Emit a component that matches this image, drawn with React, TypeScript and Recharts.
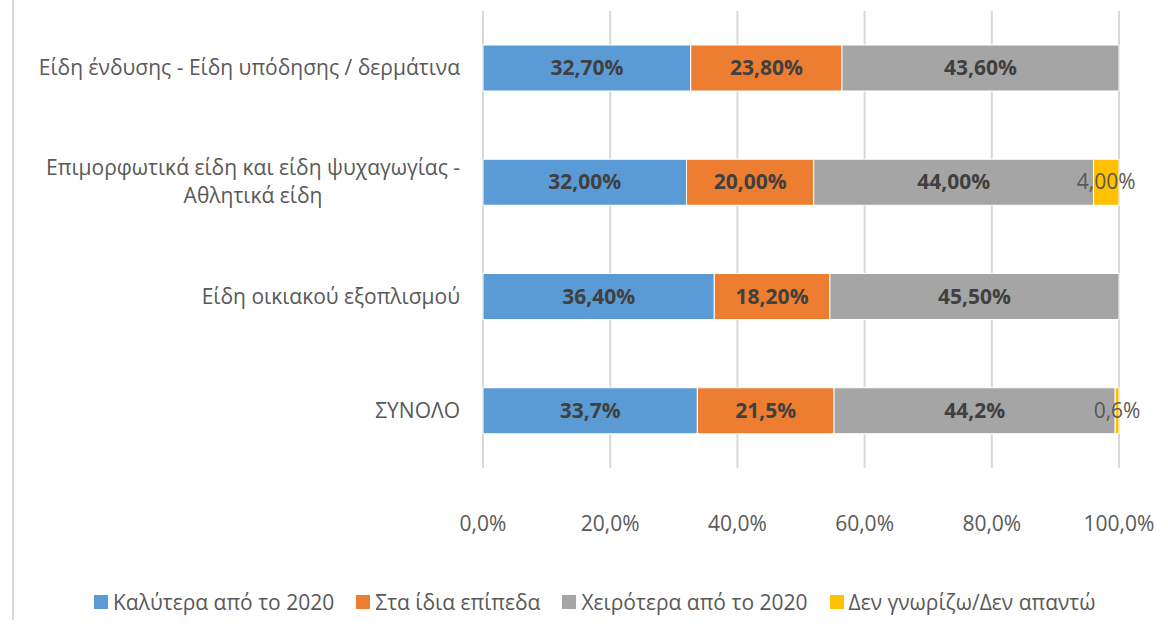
import React from "react";
import { BarChart, Bar, XAxis, YAxis, CartesianGrid, LabelList } from "recharts";

const categories = [
  "Είδη ένδυσης - Είδη υπόδησης / δερμάτινα",
  "Επιμορφωτικά είδη και είδη ψυχαγωγίας - Αθλητικά είδη",
  "Είδη οικιακού εξοπλισμού",
  "ΣΥΝΟΛΟ",
];

const better = [32.7, 32.0, 36.4, 33.7];
const same = [23.8, 20.0, 18.2, 21.5];
const worse = [43.6, 44.0, 45.5, 44.2];
const unknown = [0, 4.0, 0, 0.6];

const betterLabels = ["32,70%", "32,00%", "36,40%", "33,7%"];
const sameLabels = ["23,80%", "20,00%", "18,20%", "21,5%"];
const worseLabels = ["43,60%", "44,00%", "45,50%", "44,2%"];
const unknownLabels = ["", "4,00%", "", "0,6%"];

const xTicks = [0, 0.2, 0.4, 0.6, 0.8, 1];

const seriesNames = [
  "Καλύτερα από το 2020",
  "Στα ίδια επίπεδα",
  "Χειρότερα από το 2020",
  "Δεν γνωρίζω/Δεν απαντώ",
];
const colors = ["#5B9BD5", "#ED7D31", "#A5A5A5", "#FFC000"];

const data = categories.map((name, i) => ({
  name,
  better: better[i],
  same: same[i],
  worse: worse[i],
  unknown: unknown[i],
  betterLabel: betterLabels[i],
  sameLabel: sameLabels[i],
  worseLabel: worseLabels[i],
  unknownLabel: unknownLabels[i],
}));

const FONT = "'Open Sans', sans-serif";
const FS = 21;

let ctx: CanvasRenderingContext2D | null = null;
function measure(text: string) {
  if (!ctx) ctx = document.createElement("canvas").getContext("2d");
  if (!ctx) return text.length * 11;
  ctx.font = `${FS}px ${FONT}`;
  return ctx.measureText(text).width;
}

function wrap(label: string) {
  if (label.length <= 45) return [label];
  const idx = label.lastIndexOf(" ", 40);
  return [label.slice(0, idx), label.slice(idx + 1)];
}

const CategoryTick = (props: any) => {
  const { x, y, payload } = props;
  const lines = wrap(payload.value);
  if (lines.length === 1) {
    return (
      <text x={x} y={y} dy={7} textAnchor="end" fill="#595959" fontSize={FS} fontFamily={FONT}>
        {lines[0]}
      </text>
    );
  }
  const w = measure(lines[0]);
  const cx = x - w / 2;
  return (
    <text textAnchor="middle" fill="#595959" fontSize={FS} fontFamily={FONT}>
      {lines.map((l, i) => (
        <tspan key={i} x={cx} y={y + 7 + (i - (lines.length - 1) / 2) * 28}>
          {l}
        </tspan>
      ))}
    </text>
  );
};

const PercentTick = (props: any) => {
  const { x, y, payload } = props;
  return (
    <text x={x} y={y} dy={61} textAnchor="middle" fill="#595959" fontSize={FS} fontFamily={FONT}>
      {(payload.value * 100).toFixed(1).replace(".", ",") + "%"}
    </text>
  );
};

const makeLabel = (bold: boolean) => (props: any) => {
  const { x, y, width, height, value } = props;
  if (!value) return null;
  return (
    <text
      x={x + width / 2}
      y={y + height / 2}
      dy={7}
      textAnchor="middle"
      fill={bold ? "#404040" : "#595959"}
      fontSize={FS}
      fontWeight={bold ? 700 : 400}
      fontFamily={FONT}
    >
      {value}
    </text>
  );
};

export default function App() {
  return (
    <div style={{ position: "absolute", left: 0, top: 0, width: 1168, height: 635, background: "#fff", fontFamily: FONT }}>
      <div style={{ position: "absolute", left: 12, top: 0, width: 2, height: 620, background: "#d9d9d9" }} />
      <BarChart
        width={1168}
        height={635}
        data={data}
        layout="vertical"
        stackOffset="expand"
        barSize={46}
        margin={{ top: 11, right: 49, bottom: 107, left: 13 }}
      >
        <CartesianGrid horizontal={false} stroke="#d9d9d9" strokeWidth={2} />
        <XAxis
          type="number"
          domain={[0, 1]}
          ticks={xTicks}
          axisLine={false}
          tickLine={false}
          tickSize={0}
          height={60}
          tick={<PercentTick />}
        />
        <YAxis
          type="category"
          dataKey="name"
          width={470}
          axisLine={false}
          tickLine={false}
          tickSize={0}
          tickMargin={23}
          tick={<CategoryTick />}
        />
        <Bar dataKey="better" stackId="a" fill={colors[0]} stroke="#fff" strokeWidth={1} isAnimationActive={false}>
          <LabelList dataKey="betterLabel" content={makeLabel(true)} />
        </Bar>
        <Bar dataKey="same" stackId="a" fill={colors[1]} stroke="#fff" strokeWidth={1} isAnimationActive={false}>
          <LabelList dataKey="sameLabel" content={makeLabel(true)} />
        </Bar>
        <Bar dataKey="worse" stackId="a" fill={colors[2]} stroke="#fff" strokeWidth={1} isAnimationActive={false}>
          <LabelList dataKey="worseLabel" content={makeLabel(true)} />
        </Bar>
        <Bar dataKey="unknown" stackId="a" fill={colors[3]} stroke="#fff" strokeWidth={1} isAnimationActive={false}>
          <LabelList dataKey="unknownLabel" content={makeLabel(false)} />
        </Bar>
      </BarChart>
      <div style={{ position: "absolute", left: 94, top: 588, display: "flex", alignItems: "center", gap: 22, fontSize: FS, color: "#595959", whiteSpace: "nowrap" }}>
        {seriesNames.map((n, i) => (
          <div key={n} style={{ display: "flex", alignItems: "center" }}>
            <span style={{ display: "inline-block", width: 14, height: 14, background: colors[i], marginRight: 5 }} />
            <span>{n}</span>
          </div>
        ))}
      </div>
    </div>
  );
}
